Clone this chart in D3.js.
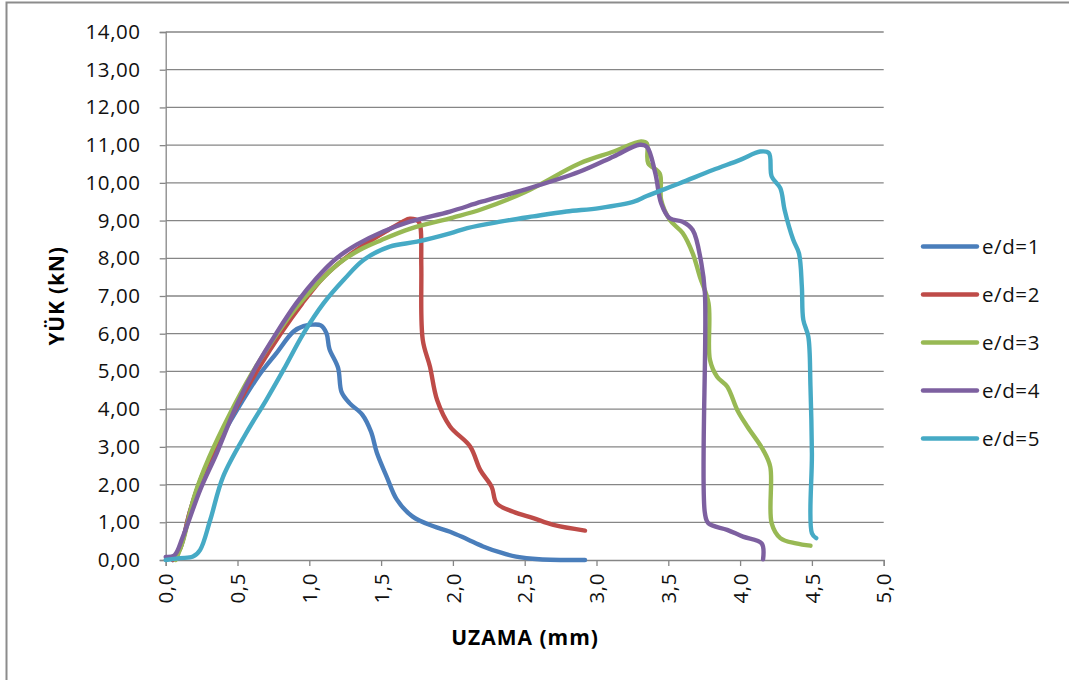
<!DOCTYPE html>
<html><head><meta charset="utf-8">
<script src="https://cdnjs.cloudflare.com/ajax/libs/d3/7.8.5/d3.min.js"></script>
<style>body{margin:0;background:#fff}svg{display:block}</style>
</head><body>
<svg id="c" width="1069" height="680"></svg>
<script>
const seriesNames = ["e/d=1","e/d=2","e/d=3","e/d=4","e/d=5"];
const seriesColors = ["#4a7ebb","#be4b48","#98b954","#7d60a0","#46aac5"];
const xTicks = [0,0.5,1,1.5,2,2.5,3,3.5,4,4.5,5];
const yTicks = [0,1,2,3,4,5,6,7,8,9,10,11,12,13,14];

const ed1 = [[0.05,0],[0.1,0.3],[0.17,1.3],[0.25,2.2],[0.35,3.0],[0.5,4.0],[0.65,4.9],[0.77,5.48],[0.89,6.06],[0.96,6.2],[1.02,6.24],[1.08,6.22],[1.12,6.01],[1.14,5.6],[1.2,5.1],[1.225,4.45],[1.28,4.16],[1.37,3.85],[1.43,3.4],[1.47,2.85],[1.54,2.2],[1.61,1.6],[1.72,1.15],[1.86,0.9],[1.98,0.75],[2.1,0.55],[2.21,0.36],[2.33,0.2],[2.44,0.09],[2.6,0.02],[2.92,0.0]];
const ed2 = [[0.05,0],[0.1,0.3],[0.17,1.3],[0.25,2.2],[0.35,3.0],[0.5,4.1],[0.65,5.1],[0.8,6.0],[0.95,6.8],[1.1,7.5],[1.25,8.0],[1.4,8.4],[1.55,8.75],[1.65,8.97],[1.70,9.05],[1.76,8.98],[1.775,8.8],[1.78,7.8],[1.79,5.84],[1.84,5.13],[1.89,4.24],[1.98,3.54],[2.12,3.01],[2.19,2.39],[2.27,1.94],[2.305,1.5],[2.42,1.28],[2.56,1.11],[2.70,0.93],[2.92,0.78]];
const ed3 = [[0.07,0],[0.12,0.5],[0.2,1.7],[0.3,2.7],[0.45,3.9],[0.6,4.95],[0.75,5.85],[0.9,6.65],[1.05,7.3],[1.2,7.85],[1.35,8.22],[1.5,8.48],[1.7,8.78],[2.0,9.08],[2.2,9.3],[2.5,9.75],[2.885,10.52],[3.12,10.83],[3.31,11.10],[3.35,11.05],[3.36,10.52],[3.44,10.25],[3.45,9.55],[3.51,9.02],[3.60,8.67],[3.67,8.13],[3.72,7.51],[3.78,6.81],[3.79,5.31],[3.84,4.86],[3.91,4.6],[3.98,3.98],[4.05,3.54],[4.16,2.92],[4.21,2.47],[4.22,0.97],[4.28,0.58],[4.39,0.44],[4.49,0.38]];
const ed4 = [[0,0.08],[0.06,0.12],[0.12,0.62],[0.24,1.86],[0.355,2.83],[0.49,4.07],[0.63,5.13],[0.77,6.01],[0.91,6.81],[1.05,7.47],[1.19,8.0],[1.33,8.36],[1.515,8.71],[1.70,8.97],[1.98,9.24],[2.2,9.5],[2.5,9.82],[2.885,10.3],[3.12,10.7],[3.30,11.01],[3.35,10.96],[3.41,10.25],[3.45,9.46],[3.51,9.06],[3.60,8.97],[3.67,8.75],[3.73,7.87],[3.755,7.07],[3.755,1.24],[3.78,0.97],[3.91,0.8],[4.02,0.62],[4.15,0.44],[4.16,0.02]];
const ed5 = [[0,0],[0.1,0.05],[0.19,0.09],[0.24,0.27],[0.31,1.06],[0.4,2.21],[0.56,3.36],[0.7,4.24],[0.82,5.04],[0.96,6.01],[1.10,6.81],[1.24,7.43],[1.38,7.96],[1.56,8.31],[1.75,8.44],[1.98,8.66],[2.10,8.8],[2.33,8.97],[2.56,9.11],[2.79,9.24],[3.02,9.33],[3.26,9.5],[3.35,9.65],[3.58,9.99],[3.81,10.34],[4.0,10.61],[4.14,10.83],[4.2,10.79],[4.22,10.17],[4.28,9.86],[4.31,9.28],[4.37,8.49],[4.41,8.13],[4.43,7.25],[4.44,6.37],[4.475,5.92],[4.49,4.6],[4.50,2.83],[4.50,0.71],[4.53,0.58]];
const allSeries = [ed1, ed2, ed3, ed4, ed5];

const svg = d3.select("#c");
const FONT = "'Open Sans', sans-serif";
// outer frame
svg.append("rect").attr("x",6.5).attr("y",2.5).attr("width",1075).attr("height",700)
  .attr("fill","none").attr("stroke","#8c8c8c").attr("stroke-width",2);

const x = d3.scaleLinear().domain([0,5]).range([165.7,883.7]);
const y = d3.scaleLinear().domain([0,14]).range([560,32]);

// gridlines
svg.append("g").selectAll("line").data(yTicks.filter(d=>d>0)).join("line")
  .attr("x1",x(0)).attr("x2",x(5)).attr("y1",d=>y(d)).attr("y2",d=>y(d))
  .attr("stroke","#868686").attr("stroke-width",1.3);

// y axis
const yAxis = svg.append("g").attr("transform",`translate(${x(0)},0)`)
  .call(d3.axisLeft(y).tickValues(yTicks).tickSize(6).tickPadding(19)
    .tickFormat(d=>d3.format(".2f")(d).replace(".",",")));
yAxis.select(".domain").attr("stroke","#868686").attr("stroke-width",1.3);
yAxis.selectAll(".tick line").attr("stroke","#868686").attr("stroke-width",1.3);
yAxis.selectAll("text").attr("font-family",FONT).attr("font-size","20.5px").attr("fill","#111")
  .attr("letter-spacing","0.6px");

// x axis
const xAxis = svg.append("g").attr("transform",`translate(0,${y(0)})`)
  .call(d3.axisBottom(x).tickValues(xTicks).tickSize(6)
    .tickFormat(d=>d3.format(".1f")(d).replace(".",",")));
xAxis.select(".domain").attr("stroke","#868686").attr("stroke-width",1.3);
xAxis.selectAll(".tick line").attr("stroke","#868686").attr("stroke-width",1.3);
xAxis.selectAll("text").attr("font-family",FONT).attr("font-size","20.5px").attr("fill","#111")
  .attr("letter-spacing","0.6px")
  .attr("transform","rotate(-90)").attr("text-anchor","end")
  .attr("x",-13).attr("y",0).attr("dy","0.35em");

// axis titles
svg.append("text").attr("x",525).attr("y",645).attr("text-anchor","middle")
  .attr("font-family",FONT).attr("font-weight","bold").attr("font-size","21px")
  .attr("letter-spacing","1px").text("UZAMA (mm)");
svg.append("text").attr("transform","translate(64,296) rotate(-90)").attr("text-anchor","middle")
  .attr("font-family",FONT).attr("font-weight","bold").attr("font-size","21px")
  .attr("letter-spacing","0.8px").text("YÜK (kN)");

// lines
const line = d3.line().x(d=>x(d[0])).y(d=>y(d[1])).curve(d3.curveCatmullRom.alpha(0.5));
svg.append("g").selectAll("path").data(allSeries).join("path")
  .attr("d",line).attr("fill","none").attr("stroke",(d,i)=>seriesColors[i])
  .attr("stroke-width",4.4).attr("stroke-linejoin","round").attr("stroke-linecap","round");

// legend
const leg = svg.append("g").selectAll("g").data(seriesNames).join("g")
  .attr("transform",(d,i)=>`translate(0,${246.5+i*48})`);
leg.append("line").attr("x1",923).attr("x2",977).attr("y1",0).attr("y2",0)
  .attr("stroke",(d,i)=>seriesColors[i]).attr("stroke-width",4.4).attr("stroke-linecap","round");
leg.append("text").attr("x",982).attr("y",0).attr("dy","0.36em")
  .attr("font-family",FONT).attr("font-size","20.5px").attr("fill","#111").attr("letter-spacing","0.6px").text(d=>d);
</script>
</body></html>
